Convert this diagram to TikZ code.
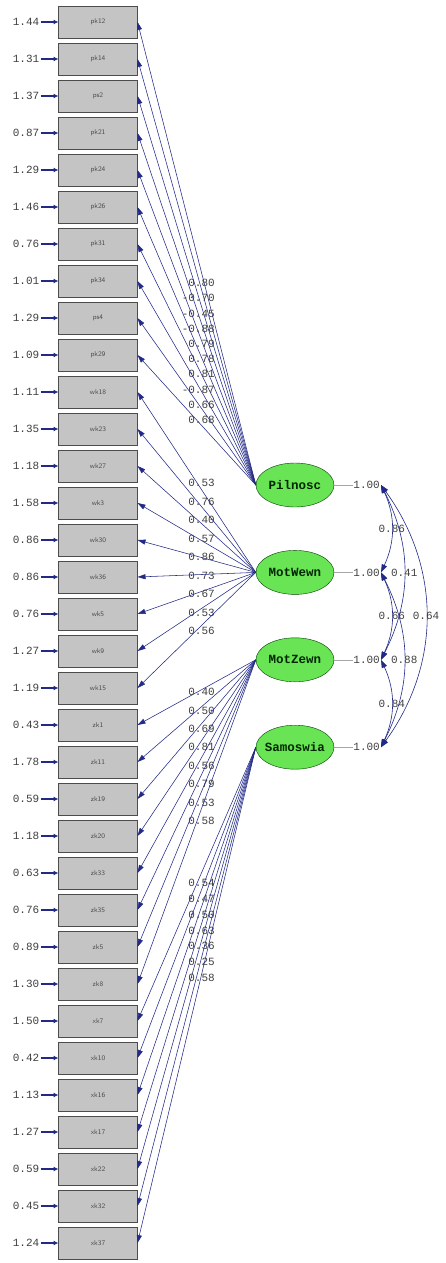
\documentclass[tikz,border=0pt]{standalone}
\usepackage{fontspec}
\setmonofont{Liberation Mono}
\usetikzlibrary{positioning, arrows.meta, shapes.geometric}
\definecolor{pathblue}{RGB}{34,42,135}
\definecolor{latentgreen}{RGB}{104,228,84}
\definecolor{boxgray}{RGB}{196,196,196}
\newcommand{\coeffont}{\fontsize{11}{12}\selectfont\ttfamily}

\begin{document}
\begin{tikzpicture}[x=1pt, y=1pt, node distance=5pt and 18pt,
    obs/.style={draw=black!70, fill=boxgray, minimum width=79pt, minimum height=32pt,
        inner sep=0pt, outer sep=0pt, font=\fontsize{7}{8}\selectfont\sffamily, text=black!70},
    err/.style={font=\coeffont, text=black!75, inner sep=1pt},
    coef/.style={font=\coeffont, text=black!75, inner sep=0pt},
    latent/.style={ellipse, draw=green!25!black, fill=latentgreen, minimum width=78pt,
        minimum height=44pt, inner sep=0pt, inner xsep=-5pt,
        font=\fontsize{12.5}{13}\selectfont\ttfamily\bfseries, text=black!85!green},
    errarrow/.style={pathblue, line width=1.5pt, -{Latex[length=5pt, width=5pt]}},
    load/.style={pathblue, line width=0.55pt, -{Triangle[length=8pt, width=5pt]}},
    covar/.style={pathblue, line width=0.6pt,
        {Triangle[length=8pt, width=5.5pt]}-{Triangle[length=8pt, width=5.5pt]}},
]
\fill[white] (0,0) rectangle (445,-1263);
\useasboundingbox (0,0) rectangle (445,-1263);

% observed variables
\node (pk12) [obs] at (98,-22) {pk12};
\node (pk14) [obs, below=of pk12] {pk14};
\node (ps2)  [obs, below=of pk14] {ps2};
\node (pk21) [obs, below=of ps2]  {pk21};
\node (pk24) [obs, below=of pk21] {pk24};
\node (pk26) [obs, below=of pk24] {pk26};
\node (pk31) [obs, below=of pk26] {pk31};
\node (pk34) [obs, below=of pk31] {pk34};
\node (ps4)  [obs, below=of pk34] {ps4};
\node (pk29) [obs, below=of ps4]  {pk29};
\node (wk18) [obs, below=of pk29] {wk18};
\node (wk23) [obs, below=of wk18] {wk23};
\node (wk27) [obs, below=of wk23] {wk27};
\node (wk3)  [obs, below=of wk27] {wk3};
\node (wk30) [obs, below=of wk3]  {wk30};
\node (wk36) [obs, below=of wk30] {wk36};
\node (wk5)  [obs, below=of wk36] {wk5};
\node (wk9)  [obs, below=of wk5]  {wk9};
\node (wk15) [obs, below=of wk9]  {wk15};
\node (zk1)  [obs, below=of wk15] {zk1};
\node (zk11) [obs, below=of zk1]  {zk11};
\node (zk19) [obs, below=of zk11] {zk19};
\node (zk20) [obs, below=of zk19] {zk20};
\node (zk33) [obs, below=of zk20] {zk33};
\node (zk35) [obs, below=of zk33] {zk35};
\node (zk5)  [obs, below=of zk35] {zk5};
\node (zk8)  [obs, below=of zk5]  {zk8};
\node (xk7)  [obs, below=of zk8]  {xk7};
\node (xk10) [obs, below=of xk7]  {xk10};
\node (xk16) [obs, below=of xk10] {xk16};
\node (xk17) [obs, below=of xk16] {xk17};
\node (xk22) [obs, below=of xk17] {xk22};
\node (xk32) [obs, below=of xk22] {xk32};
\node (xk37) [obs, below=of xk32] {xk37};

% error variances
\foreach \o/\e in {pk12/1.44, pk14/1.31, ps2/1.37, pk21/0.87, pk24/1.29, pk26/1.46,
    pk31/0.76, pk34/1.01, ps4/1.29, pk29/1.09, wk18/1.11, wk23/1.35, wk27/1.18,
    wk3/1.58, wk30/0.86, wk36/0.86, wk5/0.76, wk9/1.27, wk15/1.19, zk1/0.43,
    zk11/1.78, zk19/0.59, zk20/1.18, zk33/0.63, zk35/0.76, zk5/0.89, zk8/1.30,
    xk7/1.50, xk10/0.42, xk16/1.13, xk17/1.27, xk22/0.59, xk32/0.45, xk37/1.24}
{
    \node (e\o) [err, left=of \o] {\e};
    \draw[errarrow] (e\o) -- (\o);
}

% latent variables
\node (Pilnosc)  [latent] at (295,-485) {Pilnosc};
\node (MotWewn)  [latent, below=43pt of Pilnosc] {MotWewn};
\node (MotZewn)  [latent, below=43pt of MotWewn] {MotZewn};
\node (Samoswia) [latent, below=43pt of MotZewn] {Samoswia};

% loadings
\foreach \o/\l [count=\i from 0] in {pk12/0.80, pk14/-0.70, ps2/-0.45, pk21/-0.88,
    pk24/0.79, pk26/0.78, pk31/0.81, pk34/-0.87, ps4/0.66, pk29/0.68}
{
    \draw[load] (Pilnosc.west) -- (\o.east);
    \node[coef, anchor=east] at (215,-283-15.2*\i) {\l};
}
\foreach \o/\l [count=\i from 0] in {wk18/0.53, wk23/0.76, wk27/0.40, wk3/0.57,
    wk30/0.86, wk36/0.73, wk5/0.67, wk9/0.53, wk15/0.56}
{
    \draw[load] (MotWewn.west) -- (\o.east);
    \node[coef, anchor=east] at (215,-483-18.5*\i) {\l};
}
\foreach \o/\l [count=\i from 0] in {zk1/0.40, zk11/0.50, zk19/0.69, zk20/0.81,
    zk33/0.56, zk35/0.79, zk5/0.53, zk8/0.58}
{
    \draw[load] (MotZewn.west) -- (\o.east);
    \node[coef, anchor=east] at (215,-692-18.4*\i) {\l};
}
\foreach \o/\l [count=\i from 0] in {xk7/0.54, xk10/0.47, xk16/0.50, xk17/0.63,
    xk22/0.36, xk32/0.25, xk37/0.58}
{
    \draw[load] (Samoswia.west) -- (\o.east);
    \node[coef, anchor=east] at (215,-883-15.8*\i) {\l};
}

% factor variances
\foreach \f in {Pilnosc, MotWewn, MotZewn, Samoswia}
{
    \node (v\f) [coef, right=19pt of \f] {1.00};
    \draw[black!35] (\f.east) -- (v\f.west);
    \coordinate (c\f) at ([xshift=1pt]v\f.east);
}

% correlations
\draw[covar] (cPilnosc) to[bend left=25] node[coef] {0.86} (cMotWewn);
\draw[covar] (cMotWewn) to[bend left=25] node[coef] {0.66} (cMotZewn);
\draw[covar] (cMotZewn) to[bend left=25] node[coef] {0.84} (cSamoswia);
\draw[covar] (cPilnosc) to[bend left=27] node[coef] {0.41} (cMotZewn);
\draw[covar] (cMotWewn) to[bend left=27] node[coef] {0.88} (cSamoswia);
\draw[covar] (cPilnosc) to[bend left=36] node[coef] {0.64} (cSamoswia);
\end{tikzpicture}
\end{document}
